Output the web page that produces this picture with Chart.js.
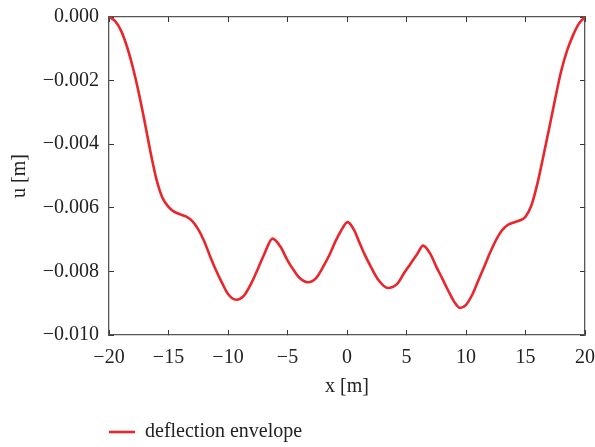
<!DOCTYPE html>
<html>
<head>
<meta charset="utf-8">
<script src="https://cdn.jsdelivr.net/npm/chart.js@4.4.1/dist/chart.umd.min.js"></script>
<style>
  body { margin: 0; background: #fff; }
</style>
</head>
<body>
<canvas id="envelope" width="595" height="447"></canvas>
<script>
// position along the span [m]
const xs = [
  -20, -19.5, -19, -18.5, -18, -17.5, -17, -16.5, -16, -15.5, -15, -14.5, -14, -13.5, -13,
  -12.5, -12, -11.5, -11, -10.5, -10, -9.3, -8.7, -8, -7.5, -7, -6.25, -5.6, -5, -4.5,
  -4, -3.3, -2.6, -2, -1.5, -1, -0.5, 0.05, 0.6, 1, 1.5, 2, 2.6, 3.4, 4.2, 4.8, 5.3,
  5.9, 6.4, 7, 7.5, 8, 8.5, 9, 9.5, 10, 10.5, 11, 11.5, 12, 12.5, 13, 13.5, 14, 14.5, 15,
  15.5, 16, 16.5, 17, 17.5, 18, 18.5, 19, 19.5, 20
]
// max downward deflection at each position [m]
const deflection = [
  0, -0.00012, -0.00042, -0.00092, -0.00158, -0.00238, -0.0033, -0.00427, -0.00512, -0.00569,
  -0.00597, -0.00613, -0.00621, -0.00628, -0.00642, -0.00668, -0.00705, -0.00753, -0.00797,
  -0.00836, -0.00871, -0.00889, -0.00878, -0.00834, -0.00793, -0.0075, -0.00697, -0.00722,
  -0.00765, -0.00795, -0.0082, -0.00834, -0.00821, -0.00785, -0.0075, -0.00708, -0.00672,
  -0.00645, -0.0067, -0.00705, -0.00748, -0.00785, -0.00825, -0.00852, -0.0084, -0.00805,
  -0.00778, -0.00745, -0.00719, -0.00745, -0.00785, -0.00822, -0.0086, -0.00895, -0.00915,
  -0.00905, -0.00875, -0.00832, -0.00788, -0.00743, -0.00703, -0.00672, -0.00654, -0.00646,
  -0.0064, -0.00628, -0.00592, -0.00524, -0.00438, -0.00348, -0.00256, -0.0017, -0.00105,
  -0.00057, -0.0002, 0
]
const seriesName = 'deflection envelope'

const FONT = { family: '"Liberation Serif", "DejaVu Serif", serif', size: 20 }
const TEXT = '#222'
const FRAME = '#555'

function minusFmt(v, digits) {
  const s = Math.abs(v).toFixed(digits)
  return (v < -1e-9 ? '\u2212' : '') + s
}

// inward tick marks, no grid lines inside the plot
function frameGrid() {
  return { drawOnChartArea: false, tickLength: -5, color: '#333', tickWidth: 1 }
}

// fixed axis sizes; drop the label overhang padding so the plot box stays put
function fixSize(w, h) {
  return (s) => {
    if (w !== null) s.width = w
    if (h !== null) s.height = h
    s.paddingLeft = s.paddingRight = s.paddingTop = s.paddingBottom = 0
  }
}

const points = xs.map((x, i) => ({ x, y: deflection[i] }))

new Chart(document.getElementById('envelope'), {
  type: 'line',
  data: {
    datasets: [{
      label: seriesName,
      data: points,
      borderColor: '#e8262b',
      backgroundColor: '#e8262b',
      borderWidth: 2.6,
      pointRadius: 0,
      cubicInterpolationMode: 'monotone',
      fill: false
    }]
  },
  options: {
    responsive: false,
    animation: false,
    layout: { autoPadding: false, padding: { top: 17, right: 10, bottom: -5, left: 0 } },
    plugins: {
      tooltip: { enabled: false },
      legend: {
        position: 'bottom',
        align: 'start',
        fullSize: false,
        labels: {
          usePointStyle: true,
          pointStyle: 'line',
          pointStyleWidth: 26,
          padding: 0,
          color: TEXT,
          font: FONT
        }
      }
    },
    scales: {
      x: {
        type: 'linear',
        position: 'bottom',
        min: -20,
        max: 20,
        afterFit: fixSize(null, 87),
        ticks: { stepSize: 5, color: TEXT, font: FONT, padding: 16, maxRotation: 0,
                 callback: (v) => minusFmt(v, 0) },
        grid: frameGrid(),
        border: { color: FRAME, width: 1.3 },
        title: { display: true, text: 'x [m]', color: TEXT, font: FONT, padding: { top: 0, bottom: 23 } }
      },
      y: {
        type: 'linear',
        position: 'left',
        min: -0.01,
        max: 0,
        afterFit: fixSize(109, null),
        ticks: { stepSize: 0.002, color: TEXT, font: FONT, padding: 15,
                 callback: (v) => minusFmt(v, 3) },
        grid: frameGrid(),
        border: { color: FRAME, width: 1.3 },
        title: { display: true, text: 'u [m]', color: TEXT, font: FONT, padding: { top: 8, bottom: 0 } }
      },
      xTop: {
        type: 'linear',
        position: 'top',
        min: -20,
        max: 20,
        afterFit: fixSize(null, 0),
        ticks: { stepSize: 5, display: false },
        grid: frameGrid(),
        border: { color: FRAME, width: 1.3 }
      },
      yRight: {
        type: 'linear',
        position: 'right',
        min: -0.01,
        max: 0,
        afterFit: fixSize(0, null),
        ticks: { stepSize: 0.002, display: false },
        grid: frameGrid(),
        border: { color: FRAME, width: 1.3 }
      }
    }
  }
})
</script>
</body>
</html>
